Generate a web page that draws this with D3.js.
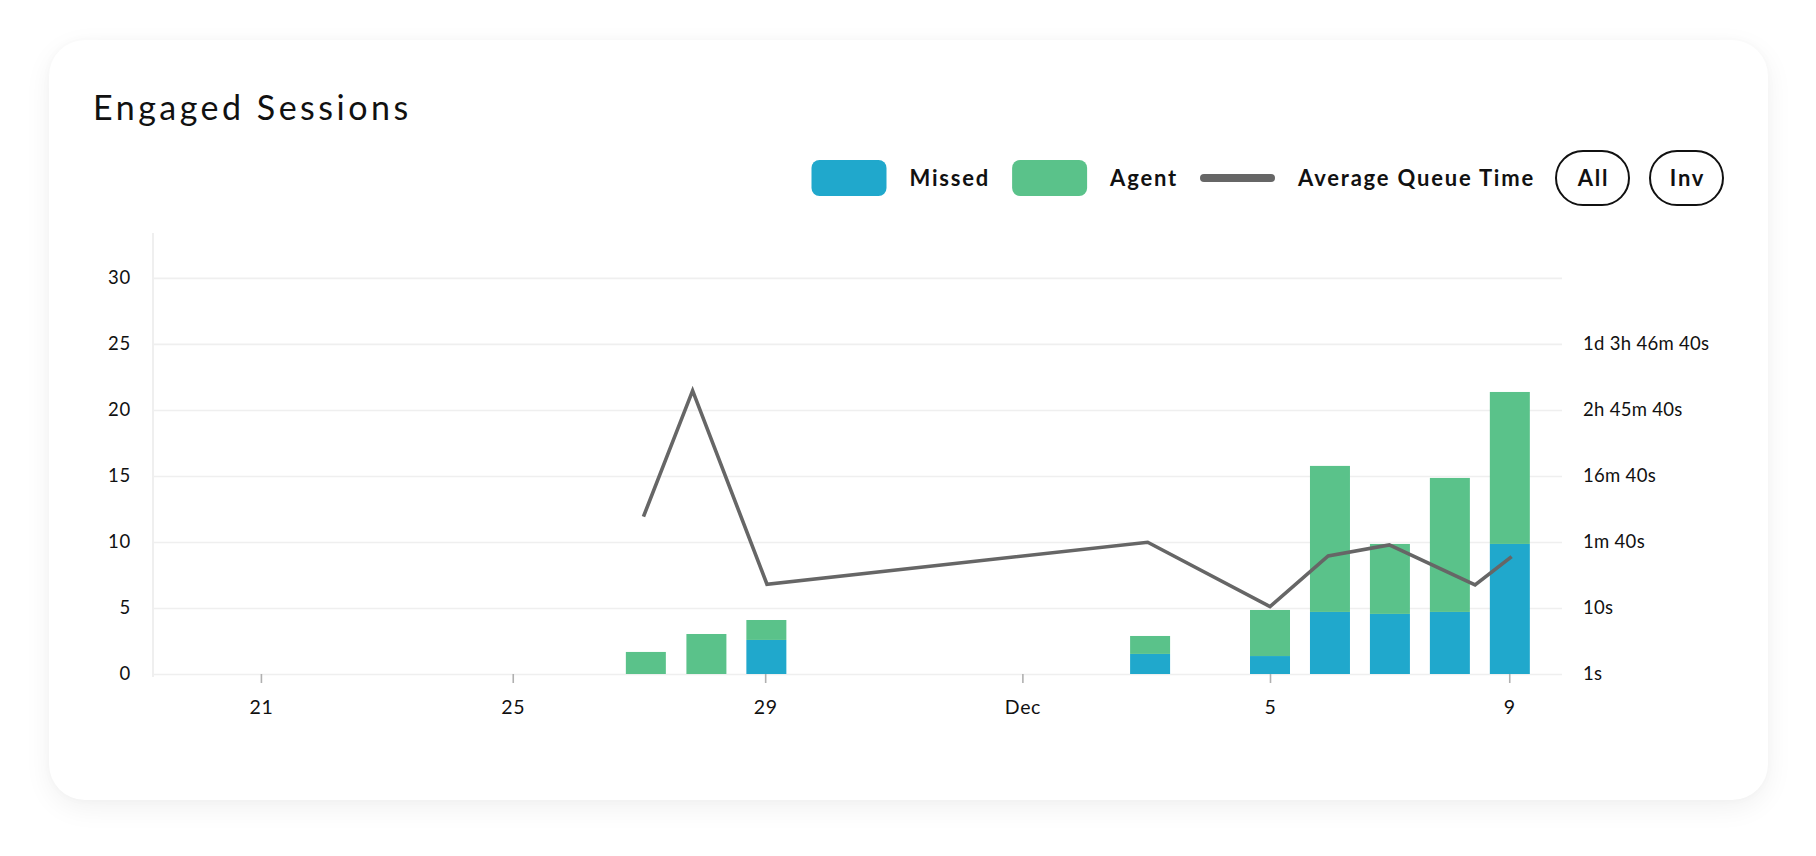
<!DOCTYPE html>
<html>
<head>
<meta charset="utf-8">
<script src="https://cdn.jsdelivr.net/npm/d3@7"></script>
<style>
  html, body { margin: 0; padding: 0; background: #ffffff; }
  body { width: 1816px; height: 856px; position: relative; overflow: hidden; font-family: Lato, "Noto Sans", sans-serif; }
  #card { position: absolute; left: 49px; top: 40px; width: 1719px; height: 760px; border-radius: 36px; background: #fff;
          box-shadow: 0 8px 28px rgba(0,0,0,0.06), 0 0 10px rgba(0,0,0,0.025); }
  svg { position: absolute; left: 0; top: 0; }
</style>
</head>
<body>
<div id="card"></div>
<svg id="chart" width="1816" height="856"></svg>
<script>
// ---------------- data ----------------
const title = "Engaged Sessions";
const dayLabels = ["Nov 27", "Nov 28", "Nov 29", "Dec 3", "Dec 5", "Dec 6", "Dec 7", "Dec 8", "Dec 9"];
const daySlots  = [8.22, 9.23, 10.23, 16.63, 18.63, 19.63, 20.63, 21.63, 22.63];   // position on the x axis
const missed    = [0, 0, 2.58, 1.52, 1.36, 4.70, 4.55, 4.70, 9.85];
const agent     = [1.67, 3.03, 1.51, 1.36, 3.49, 11.06, 5.30, 10.15, 11.51];

const queueSlots   = [8.18, 9.00, 10.24, 16.59, 18.63, 19.60, 20.62, 22.05, 22.66];
const queueSeconds = [242, 19550, 22.9, 99, 10.5, 61.4, 90, 22.3, 60];

const xTickValues = [1.80, 6.00, 10.21, 14.50, 18.63, 22.62];
const xTickLabels = ["21", "25", "29", "Dec", "5", "9"];
const yTickValues = [0, 5, 10, 15, 20, 25, 30];
const rTickValues = [1, 10, 100, 1000, 10000, 100000];
const rTickLabels = ["1s", "10s", "1m 40s", "16m 40s", "2h 45m 40s", "1d 3h 46m 40s"];

const seriesNames = ["Missed", "Agent", "Average Queue Time"];
const buttons = ["All", "Inv"];

// ---------------- style ----------------
const colMissed = "#20a8cc";
const colAgent  = "#5ac28a";
const colLine   = "#666666";
const colGrid   = "#efefef";
const FONT = "Lato, sans-serif";

const svg = d3.select("#chart");
const L = 153, R = 1562, T = 233, B = 674;
const yMax = 33.4;

const x = d3.scaleLinear().domain([0, 23.5]).range([L, R]);
const y = d3.scaleLinear().domain([0, yMax]).range([B, T]);
const yR = d3.scaleLog().domain([1, Math.pow(10, yMax / 5)]).range([B, T]);

// title
svg.append("text").attr("x", 93).attr("y", 120)
  .attr("font-size", 34).attr("letter-spacing", "3.5px").attr("fill", "#111")
  .attr("font-family", FONT).text(title);

// gridlines + left axis
const gLeft = svg.append("g").attr("transform", `translate(${L},0)`)
  .call(d3.axisLeft(y).tickValues(yTickValues).tickSize(-(R - L)).tickPadding(22));
gLeft.select(".domain").attr("stroke", colGrid).attr("stroke-width", 2)
  .attr("d", `M0,${T}V${B + 3}`);
gLeft.selectAll(".tick line").attr("stroke", colGrid).attr("stroke-width", 1.6);
gLeft.selectAll(".tick text").attr("font-size", 18.5).attr("letter-spacing", "0.8px").attr("fill", "#111")
  .attr("font-family", FONT);

// right axis
const gRight = svg.append("g").attr("transform", `translate(${R},0)`)
  .call(d3.axisRight(yR).tickValues(rTickValues).tickSize(0).tickPadding(21)
    .tickFormat((d, i) => rTickLabels[i]));
gRight.select(".domain").remove();
gRight.selectAll(".tick text").attr("font-size", 18.5).attr("letter-spacing", "0.3px").attr("fill", "#111")
  .attr("font-family", FONT);

// bottom axis
const gBottom = svg.append("g").attr("transform", `translate(0,${B})`)
  .call(d3.axisBottom(x).tickValues(xTickValues).tickSize(9).tickPadding(17)
    .tickFormat((d, i) => xTickLabels[i]));
gBottom.select(".domain").remove();
gBottom.selectAll(".tick line").attr("stroke", "#b0b0b0").attr("stroke-width", 1.6);
gBottom.selectAll(".tick text").attr("font-size", 19.5).attr("letter-spacing", "0.6px").attr("fill", "#111")
  .attr("font-family", FONT);

// stacked bars
const rows = dayLabels.map((d, i) => ({ day: d, slot: daySlots[i], Missed: missed[i], Agent: agent[i] }));
const stack = d3.stack().keys(["Missed", "Agent"])(rows);
const barW = (x(1) - x(0)) * 0.667;
const colors = { Missed: colMissed, Agent: colAgent };
svg.append("g").selectAll("g").data(stack).join("g")
  .attr("fill", s => colors[s.key])
  .selectAll("rect").data(s => s.filter(p => p[1] - p[0] > 0)).join("rect")
  .attr("x", p => x(p.data.slot) - barW / 2)
  .attr("width", barW)
  .attr("y", p => y(p[1]))
  .attr("height", p => y(p[0]) - y(p[1]));

// queue time line
const line = d3.line().x((d, i) => x(queueSlots[i])).y(d => yR(d));
svg.append("path").datum(queueSeconds).attr("d", line)
  .attr("fill", "none").attr("stroke", colLine).attr("stroke-width", 3.6)
  .attr("stroke-linejoin", "miter");

// legend (laid out right-to-left from the card padding)
const legY = 178;
const leg = svg.append("g").attr("font-family", FONT).attr("font-weight", 700)
  .attr("font-size", 22).attr("letter-spacing", "1.8px").attr("fill", "#111");
let cursor = 1723;
const measure = (txt) => {
  const t = leg.append("text").text(txt);
  const w = t.node().getComputedTextLength();
  t.remove();
  return w;
};
// buttons
for (let i = buttons.length - 1; i >= 0; i--) {
  const w = Math.max(73, measure(buttons[i]) + 28);
  const bx = cursor - w;
  leg.append("rect").attr("x", bx).attr("y", legY - 27).attr("width", w).attr("height", 54)
    .attr("rx", 27).attr("fill", "#fff").attr("stroke", "#111").attr("stroke-width", 2);
  leg.append("text").attr("x", bx + w / 2 + 1).attr("y", legY).attr("dy", "0.35em")
    .attr("text-anchor", "middle").text(buttons[i]);
  cursor = bx - 21;
}
// series entries
const swatchKinds = ["rect", "rect", "line"];
const swatchCols = [colMissed, colAgent, colLine];
for (let i = seriesNames.length - 1; i >= 0; i--) {
  const tw = measure(seriesNames[i]);
  const tx = cursor - tw;
  leg.append("text").attr("x", tx).attr("y", legY).attr("dy", "0.35em").text(seriesNames[i]);
  const sx = tx - 23 - 75;
  if (swatchKinds[i] === "rect") {
    leg.append("rect").attr("x", sx).attr("y", legY - 18).attr("width", 75).attr("height", 36)
      .attr("rx", 8).attr("fill", swatchCols[i]);
  } else {
    leg.append("line").attr("x1", sx + 4).attr("x2", sx + 71).attr("y1", legY).attr("y2", legY)
      .attr("stroke", swatchCols[i]).attr("stroke-width", 8).attr("stroke-linecap", "round");
  }
  cursor = sx - 22;
}
</script>
</body>
</html>
